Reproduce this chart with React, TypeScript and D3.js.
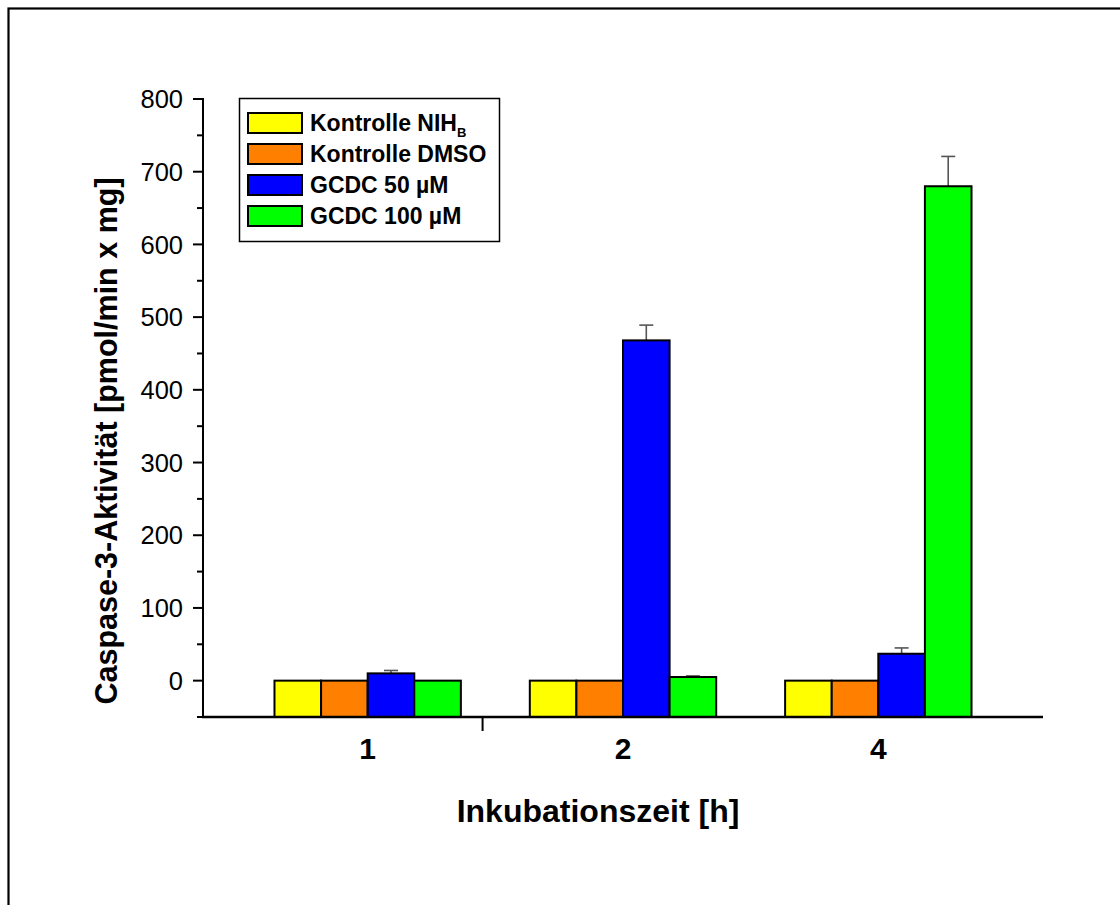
import React, { useEffect, useRef } from 'react';
import * as d3 from 'd3';

// Data
const categories: string[] = ['1', '2', '4'];
const seriesNames: string[] = ['Kontrolle NIH', 'Kontrolle DMSO', 'GCDC 50 µM', 'GCDC 100 µM'];
const seriesSubscripts: string[] = ['B', '', '', ''];
const seriesColors: string[] = ['#ffff00', '#ff8000', '#0000ff', '#00ff00'];
const valuesNIH: number[] = [0, 0, 0];
const valuesDMSO: number[] = [0, 0, 0];
const valuesGCDC50: number[] = [10, 468, 37];
const valuesGCDC100: number[] = [0, 5, 680];
const errorsNIH: number[] = [0, 0, 0];
const errorsDMSO: number[] = [0, 0, 0];
const errorsGCDC50: number[] = [4, 21, 8];
const errorsGCDC100: number[] = [0, 1.5, 41];
const yTicksMajor: number[] = [0, 100, 200, 300, 400, 500, 600, 700, 800];
const yTicksMinor: number[] = [-50, 50, 150, 250, 350, 450, 550, 650, 750];

const seriesValues = [valuesNIH, valuesDMSO, valuesGCDC50, valuesGCDC100];
const seriesErrors = [errorsNIH, errorsDMSO, errorsGCDC50, errorsGCDC100];

const FONT = '"Liberation Sans", Arial, Helvetica, sans-serif';

export default function App() {
    const ref = useRef<HTMLDivElement>(null);

    useEffect(() => {
        document.body.style.margin = '0';
        if (!ref.current) return;
        ref.current.innerHTML = '';

        const width = 1120;
        const height = 905;
        const left = 203;
        const right = 1043;
        const top = 99;
        const bottom = 717;

        const x = d3.scaleBand<string>().domain(categories).range([left, right]).paddingInner(0.27).paddingOuter(0.28);
        const xs = d3.scaleBand<string>().domain(seriesNames).range([0, x.bandwidth()]);
        const y = d3.scaleLinear().domain([-50, 800]).range([bottom, top]);

        const svg = d3
            .create('svg')
            .attr('width', width)
            .attr('height', height)
            .attr('viewBox', [0, 0, width, height])
            .style('display', 'block')
            .style('background', 'white')
            .style('font-family', FONT);

        // outer frame (runs off the right and bottom edge)
        svg.append('rect')
            .attr('x', 8.5)
            .attr('y', 8.5)
            .attr('width', 1200)
            .attr('height', 1000)
            .attr('fill', 'none')
            .attr('stroke', '#000')
            .attr('stroke-width', 2.2);

        // bars, drawn from the bottom of the axis like Origin does
        const rows = categories.flatMap((c, i) =>
            seriesNames.map((s, j) => ({ cat: c, series: s, idx: j, value: seriesValues[j][i], err: seriesErrors[j][i] }))
        );

        // error bars (under the bars)
        const errRows = rows.filter((d) => d.err > 0);
        const eg = svg.append('g').attr('stroke', '#555').attr('stroke-width', 1.6);
        eg.selectAll('line.v')
            .data(errRows)
            .join('line')
            .attr('class', 'v')
            .attr('x1', (d) => x(d.cat)! + xs(d.series)! + xs.bandwidth() / 2)
            .attr('x2', (d) => x(d.cat)! + xs(d.series)! + xs.bandwidth() / 2)
            .attr('y1', (d) => y(d.value))
            .attr('y2', (d) => y(d.value + d.err));
        eg.selectAll('line.c')
            .data(errRows)
            .join('line')
            .attr('class', 'c')
            .attr('x1', (d) => x(d.cat)! + xs(d.series)! + xs.bandwidth() / 2 - 7)
            .attr('x2', (d) => x(d.cat)! + xs(d.series)! + xs.bandwidth() / 2 + 7)
            .attr('y1', (d) => y(d.value + d.err))
            .attr('y2', (d) => y(d.value + d.err));

        svg.append('g')
            .selectAll('rect')
            .data(rows)
            .join('rect')
            .attr('x', (d) => x(d.cat)! + xs(d.series)!)
            .attr('y', (d) => y(d.value))
            .attr('width', xs.bandwidth())
            .attr('height', (d) => y(-50) - y(d.value))
            .attr('fill', (d) => seriesColors[d.idx])
            .attr('stroke', '#000')
            .attr('stroke-width', 2);

        // y axis
        const ya = svg.append('g').attr('stroke', '#000').attr('stroke-width', 2);
        ya.append('line').attr('x1', left).attr('x2', left).attr('y1', top - 1).attr('y2', bottom + 1);
        ya.selectAll('line.maj')
            .data(yTicksMajor)
            .join('line')
            .attr('class', 'maj')
            .attr('x1', left - 10)
            .attr('x2', left)
            .attr('y1', (d) => y(d))
            .attr('y2', (d) => y(d));
        ya.selectAll('line.min')
            .data(yTicksMinor)
            .join('line')
            .attr('class', 'min')
            .attr('x1', left - 6)
            .attr('x2', left)
            .attr('y1', (d) => y(d))
            .attr('y2', (d) => y(d));
        svg.append('g')
            .selectAll('text')
            .data(yTicksMajor)
            .join('text')
            .attr('x', left - 20)
            .attr('y', (d) => y(d))
            .attr('dy', '0.36em')
            .attr('text-anchor', 'end')
            .attr('font-size', 25.5)
            .attr('fill', '#000')
            .text((d) => d);

        // x axis
        svg.append('line')
            .attr('x1', left - 1)
            .attr('x2', right)
            .attr('y1', bottom)
            .attr('y2', bottom)
            .attr('stroke', '#000')
            .attr('stroke-width', 2.4);
        const tickX = x(categories[0])! + x.bandwidth() / 2 + x.step() * 0.45;
        svg.append('line')
            .attr('x1', tickX)
            .attr('x2', tickX)
            .attr('y1', bottom)
            .attr('y2', bottom + 14)
            .attr('stroke', '#000')
            .attr('stroke-width', 2);
        svg.append('g')
            .selectAll('text')
            .data(categories)
            .join('text')
            .attr('x', (d) => x(d)! + x.bandwidth() / 2)
            .attr('y', 759)
            .attr('text-anchor', 'middle')
            .attr('font-size', 30)
            .attr('font-weight', 'bold')
            .text((d) => d);

        // axis titles
        svg.append('text')
            .attr('x', 598)
            .attr('y', 822)
            .attr('text-anchor', 'middle')
            .attr('font-size', 32)
            .attr('font-weight', 'bold')
            .text('Inkubationszeit [h]');
        svg.append('text')
            .attr('transform', 'translate(117,441) rotate(-90)')
            .attr('text-anchor', 'middle')
            .attr('font-size', 30.5)
            .attr('font-weight', 'bold')
            .text('Caspase-3-Aktivität [pmol/min x mg]');

        // legend
        const lg = svg.append('g');
        lg.append('rect')
            .attr('x', 239.5)
            .attr('y', 98.5)
            .attr('width', 260)
            .attr('height', 143)
            .attr('fill', 'white')
            .attr('stroke', '#000')
            .attr('stroke-width', 1.5);
        const items = lg
            .selectAll('g.item')
            .data(seriesNames)
            .join('g')
            .attr('class', 'item')
            .attr('transform', (_, i) => `translate(0,${113 + i * 31})`);
        items.append('rect')
            .attr('x', 248)
            .attr('y', 0)
            .attr('width', 54)
            .attr('height', 20)
            .attr('fill', (_, i) => seriesColors[i])
            .attr('stroke', '#000')
            .attr('stroke-width', 2);
        const lt = items
            .append('text')
            .attr('x', 310)
            .attr('y', 17.5)
            .attr('font-size', 23)
            .attr('font-weight', 'bold');
        lt.append('tspan').text((d) => d);
        lt.filter((_, i) => seriesSubscripts[i] !== '')
            .append('tspan')
            .attr('font-size', 13)
            .attr('dy', 6)
            .text((_, i) => seriesSubscripts[i]);

        ref.current.appendChild(svg.node()!);
    }, []);

    return <div ref={ref} />;
}
